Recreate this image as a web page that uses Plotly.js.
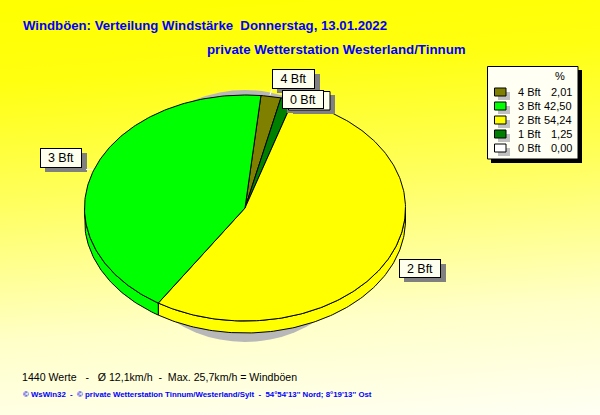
<!DOCTYPE html>
<html><head><meta charset="utf-8">
<script src="https://cdn.plot.ly/plotly-3.0.1.min.js"></script>
<style>
html,body{margin:0;padding:0;width:600px;height:415px;overflow:hidden;background:linear-gradient(176deg,#ffff00 0%,#ffff10 18%,#ffff60 45%,#ffffc8 75%,#fffff4 100%);}
#c{width:600px;height:415px;}
</style></head><body><div id="c"></div>
<script>
// Data
var categories = ['4 Bft','3 Bft','2 Bft','1 Bft','0 Bft'];
var percentValues = [2.01,42.50,54.24,1.25,0.00];
var percentLabels = ['2,01','42,50','54,24','1,25','0,00'];
var sliceColors = ['#808000','#00ff00','#ffff00','#008000','#ffffff'];
var clockwiseOrder = ['4 Bft','1 Bft','2 Bft','3 Bft'];
var titleLine1 = 'Windböen: Verteilung Windstärke\u00a0\u00a0Donnerstag, 13.01.2022';
var titleLine2 = 'private Wetterstation Westerland/Tinnum';
var footLine1 = '1440 Werte \u00a0\u00a0-\u00a0\u00a0 Ø 12,1km/h \u00a0-\u00a0 Max. 25,7km/h = Windböen';
var footLine2 = '© WsWin32 \u00a0-\u00a0 © private Wetterstation Tinnum/Westerland/Sylt \u00a0-\u00a0 54°54\'13\'\' Nord; 8°19\'13\'\' Ost';

// Pie geometry (axis units equal pixels)
var cx=245, cy=208, rx=160.5, ry=113, depth=12, startDeg=5.7;
function px(t){return cx+rx*Math.sin(t*Math.PI/180);}
function py(t,d){return cy-ry*Math.cos(t*Math.PI/180)+(d||0);}
function arc(a,b,d){var xs=[],ys=[];var n=Math.max(2,Math.ceil(Math.abs(b-a)));for(var i=0;i<=n;i++){var t=a+(b-a)*i/n;xs.push(px(t));ys.push(py(t,d));}return {x:xs,y:ys};}

var spans=[], cur=startDeg;
clockwiseOrder.forEach(function(name){
  var i=categories.indexOf(name), sweep=percentValues[i]*3.6;
  spans.push({name:name,color:sliceColors[i],a:cur,b:cur+sweep}); cur+=sweep;
});

var traces=[];
var lineStyle={color:'#000000',width:1};
spans.forEach(function(s){
  var a=Math.max(s.a,90), b=Math.min(s.b,270);
  if(b>a){
    var top=arc(a,b,0), bot=arc(b,a,depth);
    traces.push({type:'scatter',mode:'lines',x:top.x.concat(bot.x,[top.x[0]]),y:top.y.concat(bot.y,[top.y[0]]),
      fill:'toself',fillcolor:s.color,line:lineStyle,hoverinfo:'skip',showlegend:false});
  }
});
spans.forEach(function(s){
  var e=arc(s.a,s.b,0);
  traces.push({type:'scatter',mode:'lines',name:s.name,x:[cx].concat(e.x,[cx]),y:[cy].concat(e.y,[cy]),
    fill:'toself',fillcolor:s.color,line:lineStyle,hoverinfo:'name',showlegend:false});
});

var shapes=[], annotations=[];
function rect(x0,y0,x1,y1,fill,line,layer){shapes.push({type:'rect',xref:'x',yref:'y',x0:x0,y0:y0,x1:x1,y1:y1,fillcolor:fill,
  line:line?{color:line,width:1}:{width:0},layer:layer||'above'});}
function text(x,y,t,size,color,anchor,bold){annotations.push({xref:'x',yref:'y',x:x,y:y,text:bold?'<b>'+t+'</b>':t,showarrow:false,
  xanchor:anchor||'left',yanchor:'middle',borderpad:0,font:{family:'Liberation Sans, Arial, sans-serif',size:size,color:color}});}

// pie shadow
shapes.push({type:'circle',xref:'x',yref:'y',x0:cx-129,x1:cx+129,y0:90,y1:342,fillcolor:'#b8b8b8',line:{width:0},layer:'below'});

// slice callouts
var calloutBoxes=[
 {name:'4 Bft',x0:272,y0:69,x1:315,y1:89},
 {name:'0 Bft',x0:282,y0:90,x1:324,y1:109},
 {name:'3 Bft',x0:40,y0:148,x1:82,y1:168},
 {name:'2 Bft',x0:399,y0:259,x1:441,y1:278}
];
calloutBoxes.forEach(function(b){
  rect(b.x0+5,b.y0+5,b.x1+5,b.y1+4,'#808080',null);
});
// box of the 1 Bft callout, its caption fully hidden behind the 0 Bft box
rect(293,95,335,114,'#808080',null);
rect(288.5,91.5,330,110,'#ffffee','#000000');
shapes.push({type:'line',xref:'x',yref:'y',x0:86,y0:169.5,x1:93,y1:169.5,line:{color:'#ffffff',width:1}});
shapes.push({type:'line',xref:'x',yref:'y',x0:272,y0:89,x1:270,y1:95,line:{color:'#ffffff',width:1}});
calloutBoxes.forEach(function(b){
  annotations.push({xref:'x',yref:'y',x:(b.x0+b.x1)/2,y:(b.y0+b.y1)/2,text:b.name,showarrow:false,xanchor:'center',yanchor:'middle',
    width:b.x1-b.x0-2,height:b.y1-b.y0-2,borderwidth:1,bordercolor:'#000000',borderpad:0,bgcolor:'#ffffee',
    font:{family:'Liberation Sans, Arial, sans-serif',size:12.5,color:'#000000'}});
});

// legend
rect(491,70,582,163,'#000000',null);
rect(487.5,66.5,578,159,'#fffff4','#000000');
text(560,76,'%',11,'#000000','center');
var rowY=[92,106,120,134,148];
categories.forEach(function(c,i){
  rect(498,rowY[i]+0,510,rowY[i]+8,'#c0c0c0',null);
  rect(494.5,rowY[i]-4,506,rowY[i]+4,sliceColors[i],'#000000');
  text(516.5,rowY[i],c,11,'#000000','left');
  text(573,rowY[i],percentLabels[i],11,'#000000','right');
});

// texts
text(22,25,titleLine1,13.2,'#0000ff','left',true);
text(206,49,titleLine2,13.3,'#0000ff','left',true);
text(20.5,377,footLine1,10.6,'#000000','left');
text(21.5,394.5,footLine2,7.85,'#0000ff','left',true);

Plotly.newPlot('c',traces,{
  width:600,height:415,margin:{l:0,r:0,t:0,b:0},
  paper_bgcolor:'rgba(0,0,0,0)',plot_bgcolor:'rgba(0,0,0,0)',showlegend:false,
  xaxis:{range:[0,600],visible:false,fixedrange:true},
  yaxis:{range:[415,0],visible:false,fixedrange:true},
  shapes:shapes,annotations:annotations
},{displayModeBar:false,staticPlot:true});
</script></body></html>
